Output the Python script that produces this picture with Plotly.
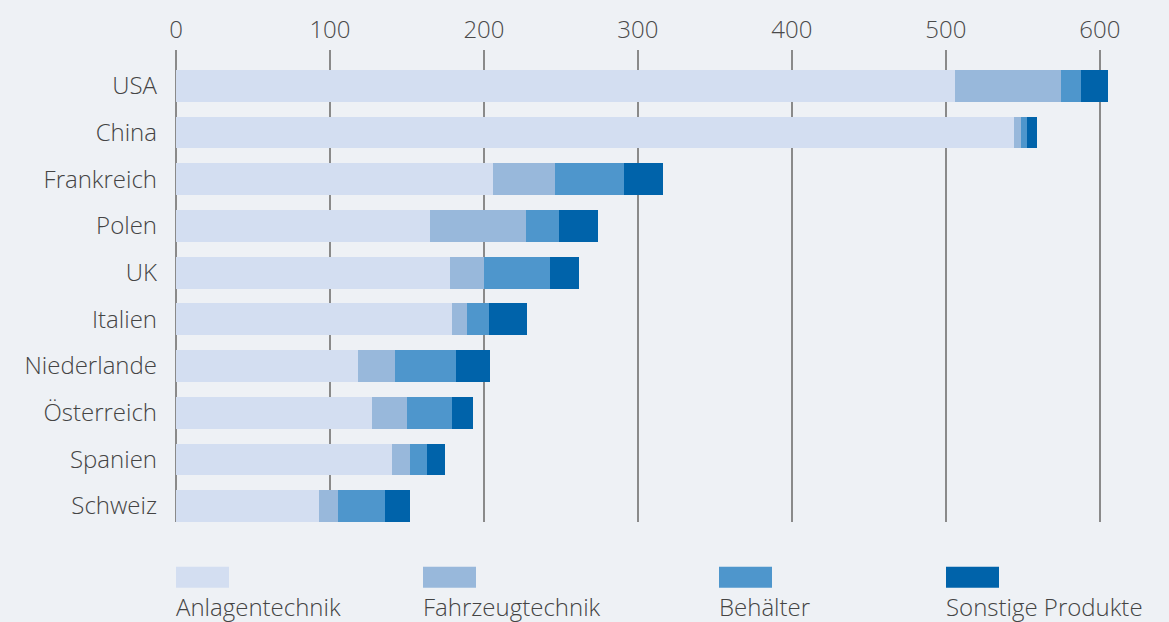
import plotly.graph_objects as go

# Länder (von oben nach unten)
laender = ["USA", "China", "Frankreich", "Polen", "UK", "Italien",
           "Niederlande", "Österreich", "Spanien", "Schweiz"]

# Werte je Produktgruppe
anlagentechnik = [506, 544, 206, 165, 178, 179, 118, 127, 140, 93]
fahrzeugtechnik = [69, 4.5, 40, 62, 22, 10, 24, 23, 12, 12]
behaelter = [13, 4.5, 45, 22, 43, 14, 40, 29, 11, 31]
sonstige = [17, 6.5, 25, 25, 19, 25, 22, 14, 12, 16]

serien = ["Anlagentechnik", "Fahrzeugtechnik", "Behälter", "Sonstige Produkte"]
werte = [anlagentechnik, fahrzeugtechnik, behaelter, sonstige]
farben = ["#D3DEF1", "#98B8DB", "#4E96CC", "#0063AA"]

x_ticks = [0, 100, 200, 300, 400, 500, 600]

BG = "#EEF1F5"
FONT = "Open Sans"
W, H = 1169, 622
ML, MR, MT, MB = 176, 23, 48, 100
PW, PH = W - ML - MR, H - MT - MB

fig = go.Figure()
for name, vals, col in zip(serien, werte, farben):
    fig.add_trace(go.Bar(
        y=laender, x=vals, name=name, orientation="h",
        marker=dict(color=col, line=dict(width=0)),
        width=0.68, showlegend=False,
    ))

# Legende unter dem Diagramm: Farbfeld oben, Beschriftung darunter
legend_x = [176, 423, 719, 946]


def px_x(px):
    return (px - ML) / PW


def px_y(py):
    return (H - MB - py) / PH


for name, col, lx in zip(serien, farben, legend_x):
    fig.add_shape(type="rect", xref="paper", yref="paper",
                  x0=px_x(lx), x1=px_x(lx + 53),
                  y0=px_y(588), y1=px_y(567),
                  line=dict(width=0), fillcolor=col)
    fig.add_annotation(xref="paper", yref="paper", x=px_x(lx), y=px_y(607),
                       xanchor="left", yanchor="middle", showarrow=False,
                       xshift=-2, text=name,
                       font=dict(family=FONT, size=24, color="#444444", weight=300))

fig.update_layout(
    width=W, height=H,
    barmode="stack",
    paper_bgcolor=BG, plot_bgcolor=BG,
    margin=dict(l=ML, r=MR, t=MT, b=MB),
    font=dict(family=FONT, size=24, color="#444444", weight=300),
)

fig.update_xaxes(
    side="top", range=[0, 630], tickvals=x_ticks,
    showgrid=True, gridcolor="#8a8a8a", gridwidth=2,
    zeroline=True, zerolinecolor="#8a8a8a", zerolinewidth=2,
    showline=False, ticks="", ticklabelstandoff=6,
    tickfont=dict(family=FONT, size=24, color="#4a4a4a", weight=300),
)
fig.update_yaxes(
    type="category", categoryorder="array", categoryarray=laender,
    range=[9.341, -0.768], showgrid=False, zeroline=False, showline=False,
    ticks="", ticklabelstandoff=18,
    tickfont=dict(family=FONT, size=24, color="#444444", weight=300),
)

fig.write_html("out.html")
